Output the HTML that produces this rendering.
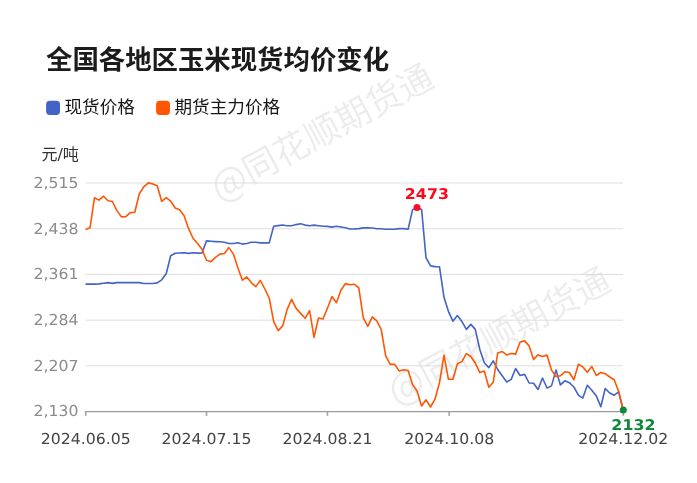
<!DOCTYPE html>
<html lang="zh"><head><meta charset="utf-8"><title>全国各地区玉米现货均价变化</title>
<style>
html,body{margin:0;padding:0;background:#fff;}
body{width:697px;height:483px;overflow:hidden;font-family:"DejaVu Sans","Liberation Sans","Noto Sans CJK SC",sans-serif;}
svg{display:block}
.title{font-family:"Liberation Sans","Noto Sans CJK SC",sans-serif;font-weight:700;font-size:26.4px;fill:#1c1c1c}
.lg{font-family:"Liberation Sans","Noto Sans CJK SC",sans-serif;font-size:17.6px;fill:#151515}
.unit{font-family:"DejaVu Sans","Liberation Sans","Noto Sans CJK SC",sans-serif;font-size:16px;fill:#333}
.yl{font-family:"DejaVu Sans","Liberation Sans",sans-serif;font-size:15px;fill:#8c8c8c;text-rendering:geometricPrecision}
.xl{font-family:"DejaVu Sans","Liberation Sans",sans-serif;font-size:15px;fill:#444;text-rendering:geometricPrecision}
.wm{font-family:"Noto Sans CJK SC","Liberation Sans",sans-serif;font-weight:400;font-size:35.1px;fill:#000;fill-opacity:0.075}
.mk{font-family:"DejaVu Sans","Liberation Sans",sans-serif;font-size:15.05px;font-weight:700;letter-spacing:0.1px;text-rendering:geometricPrecision}
</style></head><body>
<svg width="697" height="483" viewBox="0 0 697 483">
<rect width="697" height="483" fill="#fff"/>
<text x="46" y="68.6" class="title">全国各地区玉米现货均价变化</text>
<rect x="46.1" y="100.7" width="13.9" height="14.2" rx="3.7" fill="#4363c6"/>
<text x="64.5" y="113.1" class="lg">现货价格</text>
<rect x="156.1" y="100.7" width="13.9" height="14.2" rx="3.7" fill="#ff5603"/>
<text x="174.5" y="113.1" class="lg">期货主力价格</text>
<text x="41.4" y="160.1" class="unit">元/吨</text>
<text transform="translate(221.3,199.9) rotate(-28.1)" class="wm"><tspan font-size="38.3" dx="-2.8" dy="1.4">@</tspan><tspan dy="-1.4">同花顺期货通</tspan></text>
<text transform="translate(398.2,403.4) rotate(-28.1)" class="wm"><tspan font-size="38.3" dx="-2.8" dy="1.4">@</tspan><tspan dy="-1.4">同花顺期货通</tspan></text>
<line x1="85.55" x2="623.0" y1="183.00" y2="183.00" stroke="#dedede" stroke-width="1"/>
<line x1="85.55" x2="623.0" y1="228.72" y2="228.72" stroke="#dedede" stroke-width="1"/>
<line x1="85.55" x2="623.0" y1="274.44" y2="274.44" stroke="#dedede" stroke-width="1"/>
<line x1="85.55" x2="623.0" y1="320.16" y2="320.16" stroke="#dedede" stroke-width="1"/>
<line x1="85.55" x2="623.0" y1="365.88" y2="365.88" stroke="#dedede" stroke-width="1"/>

<line x1="84.9" x2="623.3" y1="411.6" y2="411.6" stroke="#9a9aa2" stroke-width="1.4"/>
<line x1="85.70" x2="85.70" y1="411.6" y2="415.9" stroke="#a6a6ae" stroke-width="1.7"/>
<line x1="206.50" x2="206.50" y1="411.6" y2="415.9" stroke="#a6a6ae" stroke-width="1.7"/>
<line x1="327.45" x2="327.45" y1="411.6" y2="415.9" stroke="#a6a6ae" stroke-width="1.7"/>
<line x1="449.20" x2="449.20" y1="411.6" y2="415.9" stroke="#a6a6ae" stroke-width="1.7"/>
<line x1="623.30" x2="623.30" y1="411.6" y2="415.9" stroke="#a6a6ae" stroke-width="1.7"/>

<text transform="translate(78.4,187.80) scale(1.048,1)" text-anchor="end" class="yl">2,515</text>
<text transform="translate(78.4,233.52) scale(1.048,1)" text-anchor="end" class="yl">2,438</text>
<text transform="translate(78.4,279.24) scale(1.048,1)" text-anchor="end" class="yl">2,361</text>
<text transform="translate(78.4,324.96) scale(1.048,1)" text-anchor="end" class="yl">2,284</text>
<text transform="translate(78.4,370.68) scale(1.048,1)" text-anchor="end" class="yl">2,207</text>
<text transform="translate(78.4,416.40) scale(1.048,1)" text-anchor="end" class="yl">2,130</text>

<text transform="translate(85.70,444) scale(1.048,1)" text-anchor="middle" class="xl">2024.06.05</text>
<text transform="translate(206.50,444) scale(1.048,1)" text-anchor="middle" class="xl">2024.07.15</text>
<text transform="translate(327.45,444) scale(1.048,1)" text-anchor="middle" class="xl">2024.08.21</text>
<text transform="translate(449.20,444) scale(1.048,1)" text-anchor="middle" class="xl">2024.10.08</text>
<text transform="translate(623.30,444) scale(1.048,1)" text-anchor="middle" class="xl">2024.12.02</text>

<path d="M85.5,284.1 L90.0,284.1 L94.5,284.1 L99.0,283.9 L103.5,283.2 L108.0,282.6 L112.4,283.4 L116.9,282.6 L121.4,282.6 L125.9,282.6 L130.3,282.6 L134.8,282.6 L139.3,282.6 L143.8,283.5 L148.3,283.5 L152.8,283.5 L157.2,282.9 L161.7,279.8 L166.2,273.7 L170.7,255.8 L175.2,253.2 L179.6,253.0 L184.1,252.7 L188.6,253.4 L193.1,252.7 L197.6,253.1 L202.0,253.0 L206.5,240.9 L211.0,241.3 L215.5,241.6 L219.9,241.8 L224.4,242.3 L228.9,243.5 L233.4,243.5 L237.9,242.8 L242.4,244.1 L246.8,243.5 L251.3,242.3 L255.8,242.3 L260.3,242.9 L264.8,242.9 L269.2,242.9 L273.7,226.3 L278.2,225.6 L282.7,225.0 L287.2,225.8 L291.6,225.8 L296.1,224.6 L300.6,223.8 L305.1,225.1 L309.6,225.8 L314.0,225.1 L318.5,225.7 L323.0,226.3 L327.5,226.4 L332.0,227.1 L336.4,226.3 L340.9,227.0 L345.4,227.7 L349.9,229.0 L354.4,228.9 L358.8,228.6 L363.3,227.9 L367.8,227.9 L372.3,228.0 L376.8,228.8 L381.2,228.8 L385.7,229.3 L390.2,229.3 L394.7,229.3 L399.2,228.6 L403.6,228.6 L408.1,229.2 L412.6,209.6 L417.1,207.5 L421.6,209.4 L426.0,257.6 L430.5,265.9 L435.0,266.6 L439.5,266.8 L444.0,297.3 L448.4,311.3 L452.9,321.2 L457.4,315.6 L461.9,321.6 L466.4,329.4 L470.8,324.4 L475.3,329.4 L479.8,349.5 L484.3,362.8 L488.8,367.6 L493.2,360.9 L497.7,369.5 L502.2,375.8 L506.7,382.0 L511.2,379.4 L515.6,368.5 L520.1,375.5 L524.6,374.4 L529.1,383.0 L533.6,383.3 L538.0,389.5 L542.5,378.0 L547.0,388.0 L551.5,385.9 L556.0,370.1 L560.4,384.9 L564.9,380.8 L569.4,382.7 L573.9,387.0 L578.4,395.2 L582.8,398.1 L587.3,385.2 L591.8,390.2 L596.3,395.9 L600.8,406.7 L605.2,388.5 L609.7,393.0 L614.2,395.2 L618.7,391.9 L623.1,409.8" fill="none" stroke="#4363c6" stroke-width="1.6" stroke-linejoin="round" stroke-linecap="butt"/>
<path d="M85.5,229.5 L90.0,227.8 L94.5,197.7 L99.0,200.1 L103.5,196.2 L108.0,200.8 L112.4,201.5 L116.9,210.6 L121.4,216.9 L125.9,216.6 L130.3,212.6 L134.8,212.3 L139.3,193.7 L143.8,186.8 L148.3,182.9 L152.8,183.9 L157.2,185.8 L161.7,201.3 L166.2,197.7 L170.7,201.2 L175.2,208.0 L179.6,209.7 L184.1,215.8 L188.6,228.7 L193.1,238.5 L197.6,243.5 L202.0,249.2 L206.5,260.3 L211.0,261.7 L215.5,257.4 L219.9,254.1 L224.4,253.5 L228.9,247.6 L233.4,254.1 L237.9,268.0 L242.4,280.2 L246.8,276.9 L251.3,282.6 L255.8,286.6 L260.3,280.4 L264.8,289.0 L269.2,298.0 L273.7,321.6 L278.2,330.6 L282.7,325.9 L287.2,309.4 L291.6,299.3 L296.1,308.4 L300.6,313.4 L305.1,318.3 L309.6,310.6 L314.0,337.4 L318.5,318.0 L323.0,319.0 L327.5,308.0 L332.0,296.5 L336.4,302.7 L340.9,290.2 L345.4,283.6 L349.9,284.7 L354.4,284.3 L358.8,287.9 L363.3,317.8 L367.8,326.4 L372.3,316.9 L376.8,320.9 L381.2,329.5 L385.7,355.8 L390.2,364.4 L394.7,364.4 L399.2,371.1 L403.6,369.7 L408.1,370.5 L412.6,384.5 L417.1,391.2 L421.6,406.0 L426.0,399.8 L430.5,407.0 L435.0,399.2 L439.5,382.5 L444.0,355.2 L448.4,379.1 L452.9,379.3 L457.4,363.8 L461.9,361.6 L466.4,353.7 L470.8,356.5 L475.3,363.2 L479.8,372.6 L484.3,371.1 L488.8,387.3 L493.2,382.3 L497.7,353.0 L502.2,351.6 L506.7,354.9 L511.2,353.5 L515.6,354.1 L520.1,342.0 L524.6,340.9 L529.1,345.9 L533.6,359.4 L538.0,354.9 L542.5,356.5 L547.0,355.0 L551.5,370.1 L556.0,376.5 L560.4,375.8 L564.9,371.8 L569.4,372.5 L573.9,379.8 L578.4,364.3 L582.8,366.9 L587.3,372.2 L591.8,366.5 L596.3,375.5 L600.8,372.5 L605.2,373.7 L609.7,377.0 L614.2,379.8 L618.7,391.6 L623.1,409.8" fill="none" stroke="#ff5603" stroke-width="1.6" stroke-linejoin="round" stroke-linecap="butt"/>
<circle cx="417" cy="207.5" r="3.5" fill="#ff0a1f"/>
<text transform="translate(404.7,198.9) scale(1.05,0.98)" class="mk" fill="#ff0519">2473</text>
<circle cx="623.3" cy="410.1" r="3.5" fill="#0c8a38"/>
<text transform="translate(611.3,429.8) scale(1.05,0.98)" class="mk" fill="#0c8a38">2132</text>
</svg>
</body></html>
